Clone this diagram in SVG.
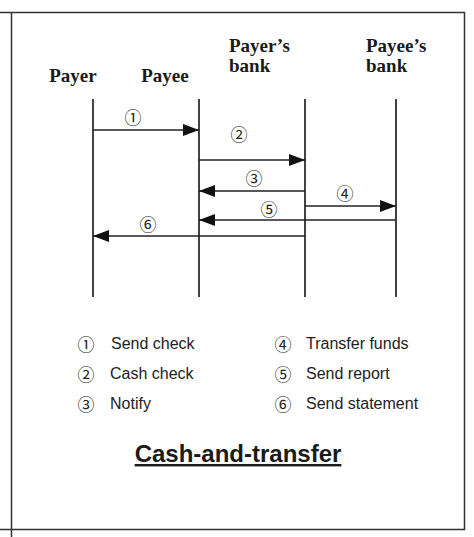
<svg xmlns="http://www.w3.org/2000/svg" width="474" height="537" viewBox="0 0 474 537">
<style>
.frame{stroke:#333;stroke-width:1.5;fill:none}
.life{stroke:#222;stroke-width:1.7}
.msg{stroke:#222;stroke-width:1.6;fill:none}
.hdr{font-family:"Liberation Serif",serif;font-weight:bold;font-size:19px;fill:#1a1a1a}
.num{font-family:"Noto Sans CJK JP","Noto Sans CJK SC",sans-serif;font-size:17px;fill:#222;text-anchor:middle}
.leg{font-family:"Liberation Sans",Arial,sans-serif;font-size:16px;fill:#222}
.title{font-family:"Liberation Sans",Arial,sans-serif;font-weight:bold;font-size:24px;fill:#1a1a1a;text-anchor:middle}
</style>
<defs>
<marker id="ah" viewBox="0 0 16 12" refX="16" refY="6" markerWidth="16" markerHeight="12" markerUnits="userSpaceOnUse" orient="auto">
<path d="M0,0 L16,6 L0,12 Z" fill="#111"/>
</marker>
</defs>
<rect width="474" height="537" fill="#fff"/>
<g id="frame">
<line class="frame" x1="0" y1="12.5" x2="465" y2="12.5"/>
<line class="frame" x1="11.5" y1="12" x2="11.5" y2="537"/>
<line class="frame" x1="464.5" y1="12" x2="464.5" y2="530"/>
<line class="frame" x1="0" y1="529.5" x2="465" y2="529.5"/>
</g>
<g id="payer">
<text class="hdr" x="73" y="82" text-anchor="middle">Payer</text>
<line class="life" x1="93" y1="99" x2="93" y2="297"/>
</g>
<g id="payee">
<text class="hdr" x="165" y="82" text-anchor="middle">Payee</text>
<line class="life" x1="199" y1="99" x2="199" y2="297"/>
</g>
<g id="payers-bank">
<text class="hdr" x="229" y="52">Payer’s</text>
<text class="hdr" x="229" y="72">bank</text>
<line class="life" x1="305" y1="99" x2="305" y2="297"/>
</g>
<g id="payees-bank">
<text class="hdr" x="366" y="52">Payee’s</text>
<text class="hdr" x="366" y="72">bank</text>
<line class="life" x1="396" y1="99" x2="396" y2="297"/>
</g>
<g id="connectors">
<line class="msg" x1="93" y1="130" x2="199" y2="130" marker-end="url(#ah)"/>
<text class="num" x="133" y="124">①</text>
<line class="msg" x1="199" y1="160" x2="305" y2="160" marker-end="url(#ah)"/>
<text class="num" x="239" y="141">②</text>
<line class="msg" x1="305" y1="191" x2="199" y2="191" marker-end="url(#ah)"/>
<text class="num" x="254" y="185">③</text>
<line class="msg" x1="305" y1="206" x2="396" y2="206" marker-end="url(#ah)"/>
<text class="num" x="345" y="200">④</text>
<line class="msg" x1="396" y1="220" x2="199" y2="220" marker-end="url(#ah)"/>
<text class="num" x="269" y="216">⑤</text>
<line class="msg" x1="305" y1="236" x2="93" y2="236" marker-end="url(#ah)"/>
<text class="num" x="148" y="231">⑥</text>
</g>
<g id="legend">
<text class="num" x="86" y="351">①</text><text class="leg" x="111" y="349">Send check</text>
<text class="num" x="86" y="381">②</text><text class="leg" x="110" y="379">Cash check</text>
<text class="num" x="86" y="411">③</text><text class="leg" x="110" y="409">Notify</text>
<text class="num" x="283" y="351">④</text><text class="leg" x="306" y="349">Transfer funds</text>
<text class="num" x="283" y="381">⑤</text><text class="leg" x="306" y="379">Send report</text>
<text class="num" x="283" y="411">⑥</text><text class="leg" x="306" y="409">Send statement</text>
</g>
<g id="title">
<text class="title" x="238" y="462" text-decoration="underline">Cash-and-transfer</text>
</g>
</svg>
